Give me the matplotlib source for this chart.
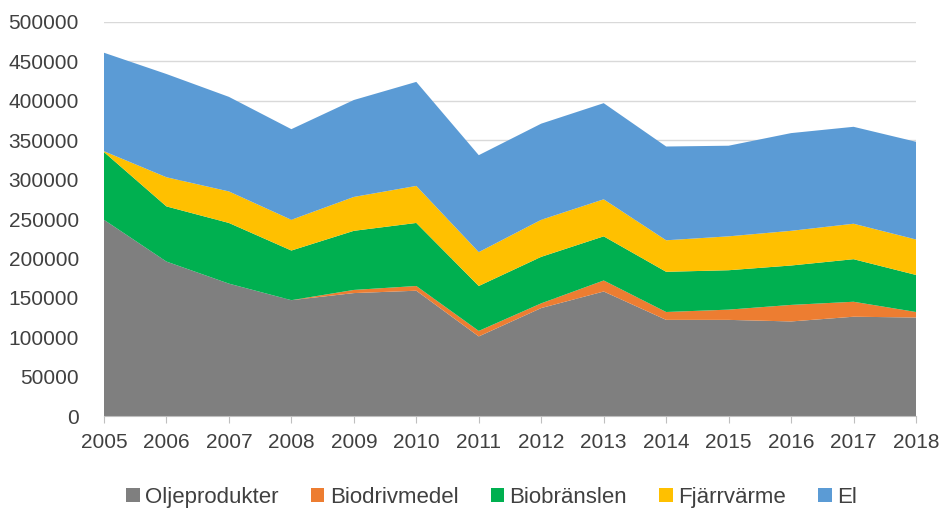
import matplotlib.pyplot as plt
import numpy as np

# Data
ar = list(range(2005, 2019))
oljeprodukter = [249000, 196000, 168000, 147000, 156000, 159000, 101000, 137000, 158000, 122000, 122000, 120000, 126000, 125000]
biodrivmedel = [0, 0, 0, 0, 4000, 6000, 7000, 6000, 14000, 10000, 13000, 21000, 19000, 7000]
biobranslen = [86000, 70000, 77000, 63000, 75000, 80000, 57000, 59000, 56000, 51000, 50000, 50000, 54000, 47000]
fjarrvarme = [1000, 37000, 40000, 39000, 43000, 47000, 43000, 47000, 47000, 40000, 43000, 44000, 45000, 45000]
el = [125000, 131000, 120000, 115000, 123000, 132000, 123000, 122000, 122000, 119000, 115000, 124000, 123000, 124000]

namn = ["Oljeprodukter", "Biodrivmedel", "Biobränslen", "Fjärrvärme", "El"]
farger = ["#7F7F7F", "#ED7D31", "#00B050", "#FFC000", "#5B9BD5"]

plt.rcParams['font.family'] = ['Liberation Sans', 'DejaVu Sans']

fig = plt.figure(figsize=(9.4, 5.15), dpi=100)
ax = fig.add_axes([0.1106, 0.1922, 0.8639, 0.7651])

ax.stackplot(ar, oljeprodukter, biodrivmedel, biobranslen, fjarrvarme, el,
             labels=namn, colors=farger, linewidth=0, zorder=2)

ax.set_xlim(2005, 2018)
ax.set_ylim(0, 500000)
ax.set_xticks(ar)
ax.set_yticks(np.arange(0, 500001, 50000))
ax.tick_params(axis='y', length=0, labelsize=15, colors='#404040', pad=18)
ax.tick_params(axis='x', length=5, color='#BFBFBF', labelsize=15, labelcolor='#404040', pad=7)
ax.grid(axis='y', color='#D9D9D9', linewidth=1, zorder=0)
ax.set_axisbelow(True)
for s in ['top', 'right', 'left']:
    ax.spines[s].set_visible(False)
ax.spines['bottom'].set_color('#BFBFBF')

fig.legend(loc='lower center', bbox_to_anchor=(0.523, -0.025), ncol=5, frameon=False,
           fontsize=16, handlelength=0.6, handleheight=0.6, handletextpad=0.25,
           columnspacing=1.45, labelcolor='#404040')

fig.savefig("out.png", dpi=100)
